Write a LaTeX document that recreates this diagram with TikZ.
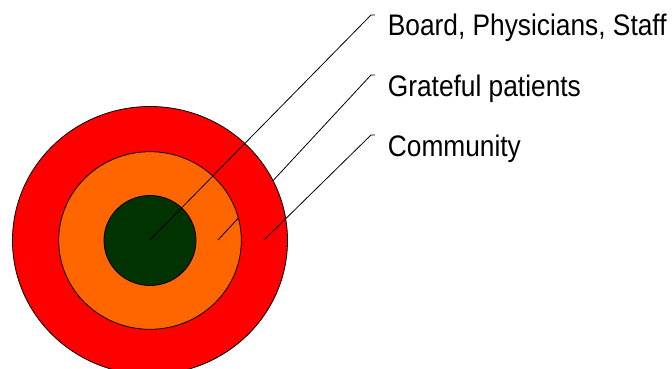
\documentclass[tikz,border=0pt]{standalone}
\usepackage{fontspec}
\setmainfont{Liberation Sans}
\usetikzlibrary{intersections}
\definecolor{ringred}{HTML}{FF0000}
\definecolor{ringorange}{HTML}{FF6600}
\definecolor{coregreen}{HTML}{003300}
\begin{document}
\begin{tikzpicture}[x=1pt,y=-1pt,
  ring/.style={draw=black, line width=0.8pt},
  leader/.style={draw=black, line width=0.8pt},
  lbl/.style={anchor=base west, inner sep=0pt, font=\fontsize{26.3}{30}\selectfont}]
\useasboundingbox (0,0) rectangle (672,369);

% concentric rings
\path[ring, fill=ringred, name path=outer] (150,240.5) ellipse [x radius=137.5, y radius=134];
\path[ring, fill=ringorange, name path=middle] (150,240.5) ellipse [x radius=91.3, y radius=88.8];
\path[ring, fill=coregreen] (150,240.5) ellipse [x radius=46, y radius=45];

% labels
\node[lbl] (board) at (387.7,36) {\scalebox{1}[1.13]{Board, Physicians, Staff}};
\node[lbl] (grateful) at (387.7,96) {\scalebox{1}[1.13]{Grateful patients}};
\node[lbl] (community) at (387.7,156) {\scalebox{1}[1.13]{Community}};

% leader line anchors
\coordinate (s1) at (150,240);
\coordinate (s2) at (218,240);
\coordinate (s3) at (264,240);
\coordinate (k1) at (371,15);
\coordinate (k2) at (371,75);
\coordinate (k3) at (371,135);
\coordinate (h1) at (375,15);
\coordinate (h2) at (375,75);
\coordinate (h3) at (375,135);

% leaders
\draw[leader] (s1) -- (k1) -- (h1);
\draw[leader] (s3) -- (k3) -- (h3);
\path[name path=l2] (s2) -- (k2);
\path[name intersections={of=l2 and middle, by={o2}}];
\path[name intersections={of=l2 and outer, by={r2}}];
\draw[leader] (s2) -- (o2);
\draw[leader] (r2) -- (k2) -- (h2);
\end{tikzpicture}
\end{document}
